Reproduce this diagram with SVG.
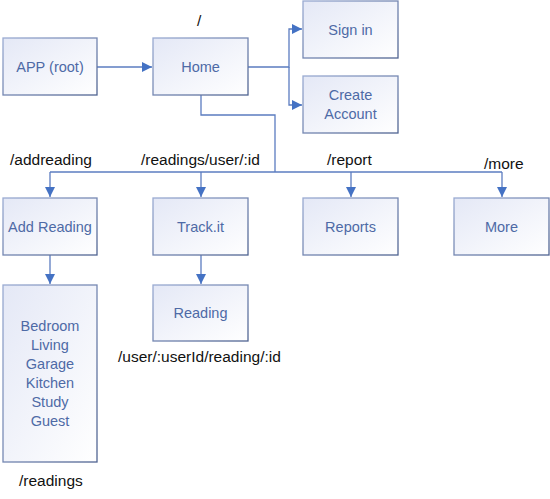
<svg xmlns="http://www.w3.org/2000/svg" width="550" height="499" viewBox="0 0 550 499">
<style>
.box{fill:url(#fillg);stroke:url(#strokeg);stroke-width:1.3}
.lbl{font-family:"Liberation Sans",Arial,sans-serif;font-size:14.5px;fill:#4e6aa6;text-anchor:middle}
.rt{font-family:"Liberation Sans",Arial,sans-serif;font-size:15.5px;fill:#111}
.con{fill:none;stroke:#5b7cc0;stroke-width:1.3}
</style>
<defs>
<linearGradient id="fillg" x1="0" y1="0" x2="1" y2="1">
<stop offset="0" stop-color="#e4e8f6"/>
<stop offset="1" stop-color="#ffffff"/>
</linearGradient>
<linearGradient id="strokeg" x1="0" y1="0" x2="1" y2="1">
<stop offset="0" stop-color="#9aabd2"/>
<stop offset="1" stop-color="#4f6391"/>
</linearGradient>
<marker id="ah" viewBox="0 0 10 10" refX="10" refY="5" markerWidth="10" markerHeight="10" markerUnits="userSpaceOnUse" orient="auto">
<path d="M0,0 L10,5 L0,10 Z" fill="#4472c4"/>
</marker>
</defs>
<g id="connectors">
<path class="con" d="M97,67 H152" marker-end="url(#ah)"/>
<path class="con" d="M248,67 H289 V29 H302" marker-end="url(#ah)"/>
<path class="con" d="M289,67 V105 H302" marker-end="url(#ah)"/>
<path class="con" d="M201,95 V115 H275 V172"/>
<path class="con" d="M50,172 H502"/>
<path class="con" d="M50,172 V197" marker-end="url(#ah)"/>
<path class="con" d="M201,172 V197" marker-end="url(#ah)"/>
<path class="con" d="M351,172 V197" marker-end="url(#ah)"/>
<path class="con" d="M502,172 V197" marker-end="url(#ah)"/>
<path class="con" d="M50,255 V284" marker-end="url(#ah)"/>
<path class="con" d="M201,255 V284" marker-end="url(#ah)"/>
</g>
<g id="app"><rect class="box" x="3" y="38" width="94" height="57"/><text class="lbl" x="50" y="72">APP (root)</text></g>
<g id="home"><rect class="box" x="153" y="38" width="95" height="57"/><text class="lbl" x="200.5" y="72">Home</text></g>
<g id="signin"><rect class="box" x="303" y="1" width="95" height="57"/><text class="lbl" x="350.5" y="35">Sign in</text></g>
<g id="create"><rect class="box" x="303" y="76" width="95" height="57"/><text class="lbl" x="350.5" y="100">Create</text><text class="lbl" x="350.5" y="119">Account</text></g>
<g id="addreading"><rect class="box" x="3" y="198" width="94" height="57"/><text class="lbl" x="50" y="232">Add Reading</text></g>
<g id="trackit"><rect class="box" x="153" y="198" width="95" height="57"/><text class="lbl" x="200.5" y="232">Track.it</text></g>
<g id="reports"><rect class="box" x="303" y="198" width="95" height="57"/><text class="lbl" x="350.5" y="232">Reports</text></g>
<g id="more"><rect class="box" x="454" y="198" width="95" height="57"/><text class="lbl" x="501.5" y="232">More</text></g>
<g id="rooms"><rect class="box" x="3" y="285" width="94" height="177"/>
<text class="lbl" x="50" y="331">Bedroom</text>
<text class="lbl" x="50" y="350">Living</text>
<text class="lbl" x="50" y="369">Garage</text>
<text class="lbl" x="50" y="388">Kitchen</text>
<text class="lbl" x="50" y="407">Study</text>
<text class="lbl" x="50" y="426">Guest</text>
</g>
<g id="reading"><rect class="box" x="153" y="285" width="95" height="56"/><text class="lbl" x="200.5" y="318">Reading</text></g>
<g id="routes">
<text class="rt" x="197" y="26">/</text>
<text class="rt" x="10" y="165">/addreading</text>
<text class="rt" x="141" y="165">/readings/user/:id</text>
<text class="rt" x="327" y="165">/report</text>
<text class="rt" x="484" y="169">/more</text>
<text class="rt" x="118" y="362">/user/:userId/reading/:id</text>
<text class="rt" x="19" y="486">/readings</text>
</g>
</svg>
